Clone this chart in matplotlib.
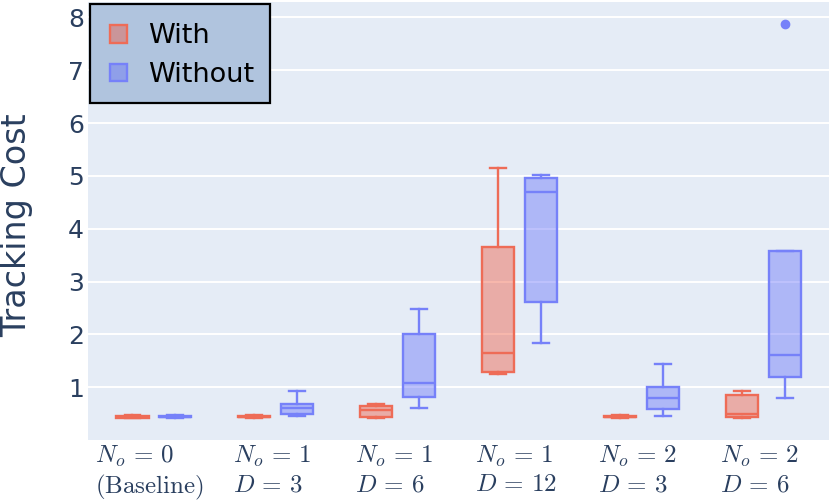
import numpy as np
import matplotlib
matplotlib.use("Agg")
from matplotlib import pyplot as plt
from matplotlib.patches import Patch, Rectangle
from matplotlib.legend_handler import HandlerPatch

plt.rcParams['mathtext.fontset'] = 'cm'
plt.rcParams['font.family'] = ['DejaVu Sans']

## categories on the x axis
categories = ['$N_o \\,=\\, 0$\n$\\mathrm{(Baseline)}$',
              '$N_o \\,=\\, 1$\n$D \\,=\\, 3$',
              '$N_o \\,=\\, 1$\n$D \\,=\\, 6$',
              '$N_o \\,=\\, 1$\n$D \\,=\\, 12$',
              '$N_o \\,=\\, 2$\n$D \\,=\\, 3$',
              '$N_o \\,=\\, 2$\n$D \\,=\\, 6$']

## box statistics, "With" series
with_lo  = [0.42, 0.42, 0.425, 1.25, 0.42, 0.42]
with_q1  = [0.425, 0.43, 0.445, 1.295, 0.43, 0.445]
with_med = [0.44, 0.44, 0.565, 1.655, 0.44, 0.49]
with_q3  = [0.455, 0.455, 0.65, 3.65, 0.455, 0.855]
with_hi  = [0.47, 0.47, 0.68, 5.14, 0.47, 0.93]
with_out = [[], [], [], [], [], []]

## "Without" series
without_lo  = [0.42, 0.46, 0.60, 1.83, 0.46, 0.80]
without_q1  = [0.43, 0.49, 0.815, 2.62, 0.595, 1.20]
without_med = [0.445, 0.615, 1.075, 4.69, 0.80, 1.605]
without_q3  = [0.46, 0.69, 2.01, 4.96, 1.01, 3.58]
without_hi  = [0.48, 0.93, 2.48, 5.01, 1.435, 3.58]
without_out = [[], [], [], [], [], [7.87]]

series_names = ['With', 'Without']
edge_colors = ['#EE6C57', '#7681F9']     # trace colour seen through 0.85 opacity
fill_colors = [(239/255, 85/255, 59/255, 0.42), (99/255, 110/255, 250/255, 0.42)]

def make_stats(lo, q1, med, q3, hi, out):
    return [dict(whislo=lo[i], q1=q1[i], med=med[i], q3=q3[i], whishi=hi[i], fliers=out[i])
            for i in range(len(med))]

stats = [make_stats(with_lo, with_q1, with_med, with_q3, with_hi, with_out),
         make_stats(without_lo, without_q1, without_med, without_q3, without_hi, without_out)]

## square legend swatch, inset a bit inside the handle box (units: points)
def square_swatch(legend, orig_handle, xdescent, ydescent, width, height, fontsize):
    s = 12.5
    return Rectangle((-xdescent + 3.3, -ydescent + (height - s) / 2.), s, s)

#########################
## figure and axes
#########################
fig = plt.figure(figsize=(8.31, 5.04), dpi=100)
ax = fig.add_axes([88.3/831, 64/504, 740.7/831, 438/504])
ax.set_facecolor('#E5ECF6')
for s in ax.spines.values():
    s.set_visible(False)
ax.set_axisbelow(True)
ax.yaxis.grid(True, color='white', lw=1.4)
ax.xaxis.grid(False)

xpos = np.arange(len(categories))
offset = 0.176
width = 0.266
lw = 1.7

for k in range(2):
    c = edge_colors[k]
    pos = xpos + (2*k - 1) * offset
    ax.bxp(stats[k], positions=pos, widths=width, patch_artist=True,
           capwidths=width*0.48, manage_ticks=False,
           boxprops=dict(facecolor=fill_colors[k], edgecolor=c, lw=lw),
           medianprops=dict(color=c, lw=lw, solid_capstyle='butt'),
           whiskerprops=dict(color=c, lw=lw),
           capprops=dict(color=c, lw=lw),
           flierprops=dict(marker='o', markerfacecolor=c, markeredgecolor=c, markersize=6))

ax.set_xlim(-0.537, 5.537)
ax.set_ylim(0.003, 8.29)
ax.set_yticks(range(1, 9))
## labels sit a few pixels left of the category centre in the reference
ax.set_xticks(xpos - 0.033)
ax.set_xticklabels(categories, fontsize=18, color='#2a3f5f', linespacing=1.15,
                   multialignment='left')
ax.tick_params(axis='y', labelsize=18, labelcolor='#2a3f5f', length=0, pad=3)
ax.tick_params(axis='x', length=0, pad=3)
ax.set_ylabel('Tracking Cost', fontsize=24, color='#2a3f5f')
ax.yaxis.set_label_coords(-0.075, 0.491)

handles = [Patch(facecolor=fill_colors[i], edgecolor=edge_colors[i], lw=1.7,
                 label=series_names[i]) for i in range(2)]
leg = ax.legend(handles=handles, loc='upper left', bbox_to_anchor=(0.0023, 0.9954),
                borderaxespad=0, fontsize=19.5, fancybox=False, framealpha=1,
                handler_map={Patch: HandlerPatch(patch_func=square_swatch)},
                handlelength=1.07, handleheight=1.29, handletextpad=0.5,
                borderpad=0.57, labelspacing=0.33)
leg.get_frame().set_facecolor('#B0C4DE')
leg.get_frame().set_edgecolor('black')
leg.get_frame().set_linewidth(1.6)

plt.savefig('out.png', dpi=100)
